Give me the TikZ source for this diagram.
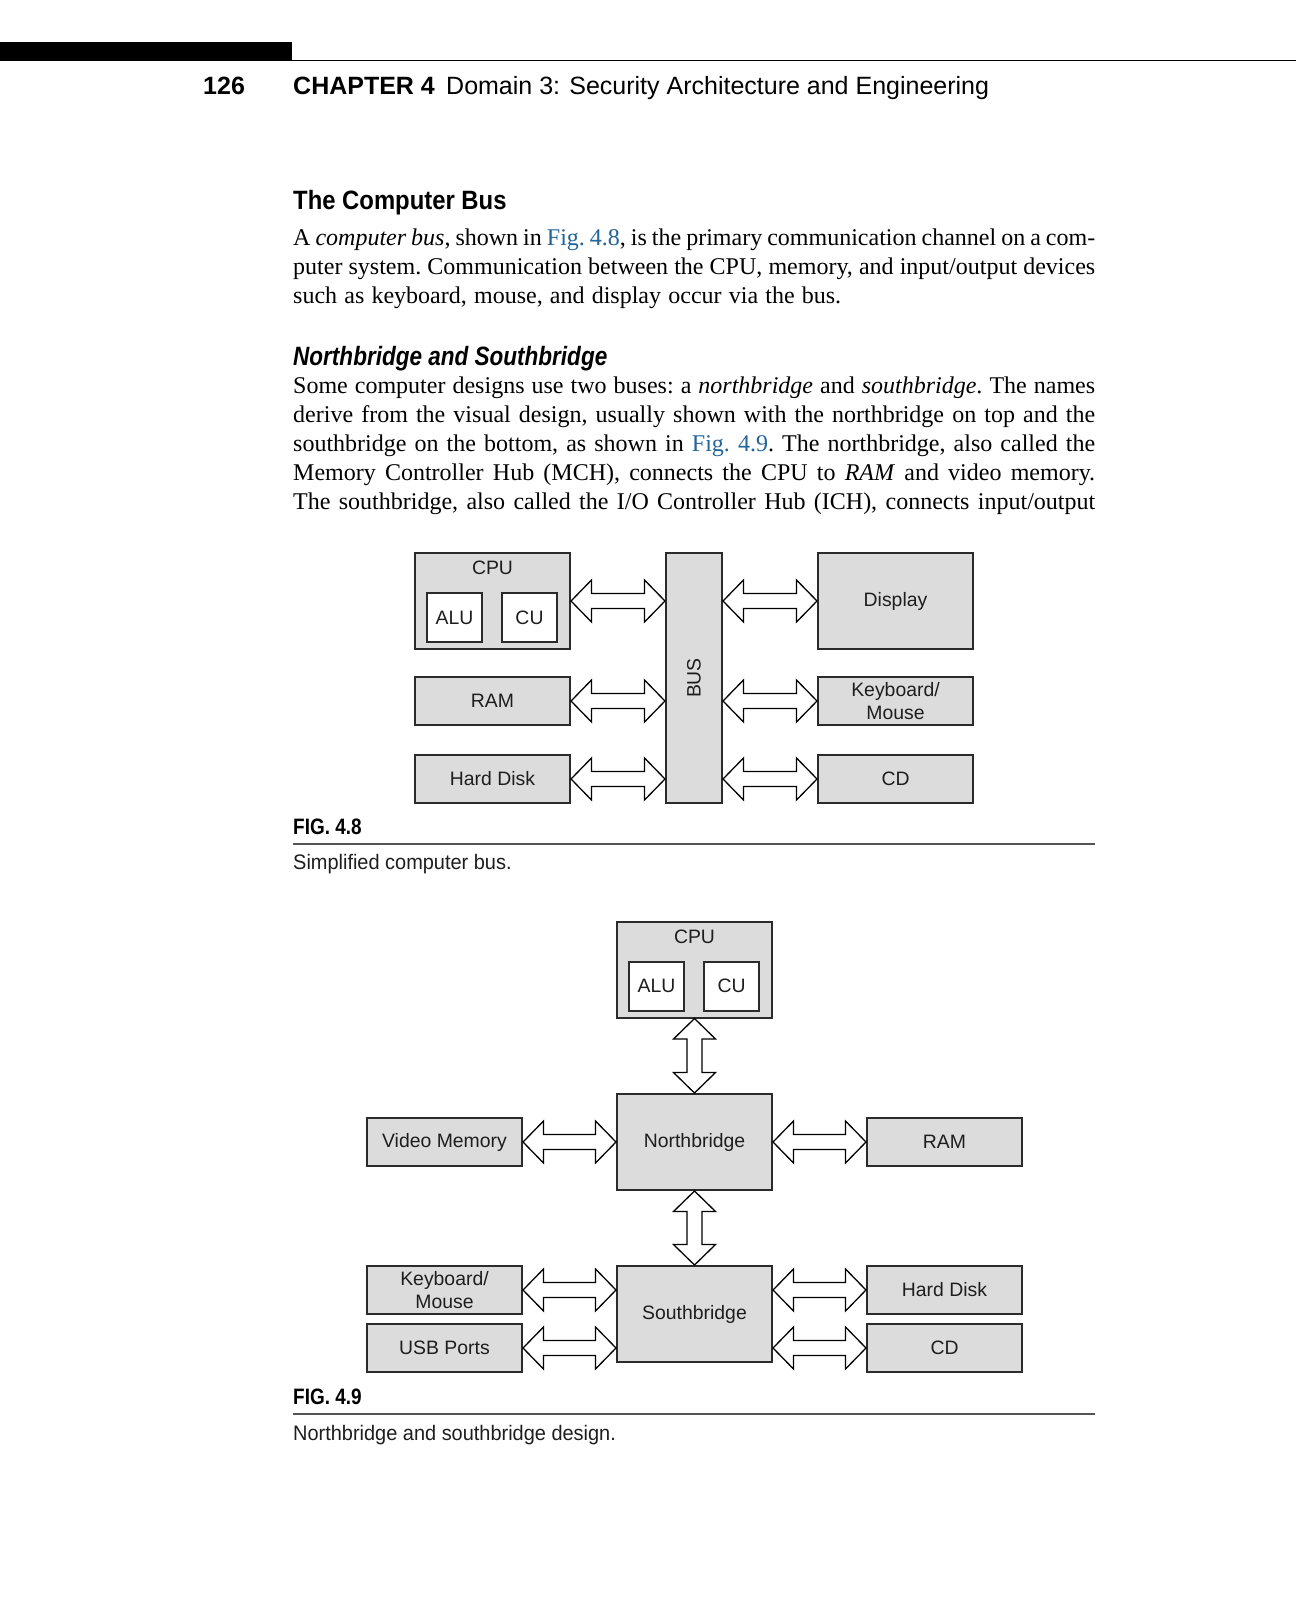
\documentclass[tikz,border=0pt]{standalone}
\usepackage{fontspec}
\usepackage{graphicx}
\usetikzlibrary{calc}
\setmainfont{Liberation Serif}
\newfontfamily\figfont{Liberation Sans}
\newfontfamily\condfont[FakeStretch=0.85]{Liberation Sans}
\newfontfamily\headfont[FakeStretch=0.9]{Liberation Sans}
\newfontfamily\capfont[FakeStretch=0.95]{Liberation Sans}
\newfontfamily\hdrfont{Liberation Sans}
\definecolor{boxline}{HTML}{2B2B2B}
\definecolor{boxfill}{HTML}{DCDCDC}
\definecolor{figtext}{HTML}{1E1E1E}
\definecolor{linkblue}{RGB}{35,100,155}
\definecolor{rulegray}{HTML}{555555}
\newcommand\lnk[1]{\textcolor{linkblue}{#1}}
\def\arrL{20.5pt}
\def\arrH{21pt}
\def\arrS{7.5pt}
\newcommand\harr[2]{\draw[barrow] let \p1=(#1), \p2=(#2) in
  (\x1,\y1) -- (\x1+\arrL,\y1+\arrH) -- (\x1+\arrL,\y1+\arrS) -- (\x2-\arrL,\y1+\arrS)
  -- (\x2-\arrL,\y1+\arrH) -- (\x2,\y1) -- (\x2-\arrL,\y1-\arrH) -- (\x2-\arrL,\y1-\arrS)
  -- (\x1+\arrL,\y1-\arrS) -- (\x1+\arrL,\y1-\arrH) -- cycle;}
\newcommand\varr[2]{\draw[barrow] let \p1=(#1), \p2=(#2) in
  (\x1,\y1) -- (\x1+\arrH,\y1-\arrL) -- (\x1+\arrS,\y1-\arrL) -- (\x1+\arrS,\y2+\arrL)
  -- (\x1+\arrH,\y2+\arrL) -- (\x1,\y2) -- (\x1-\arrH,\y2+\arrL) -- (\x1-\arrS,\y2+\arrL)
  -- (\x1-\arrS,\y1-\arrL) -- (\x1-\arrH,\y1-\arrL) -- cycle;}
\newcommand\bodysetup{\fontsize{24}{29.2}\selectfont\frenchspacing\spaceskip=0.3em plus 0.15em minus 0.1em\relax}
\tikzset{
  box/.style={draw=boxline, fill=boxfill, line width=2pt, inner sep=0pt,
    minimum width=155pt, font=\figfont\fontsize{19.4}{22.5}\selectfont,
    text=figtext, align=center},
  bigbox/.style={box, minimum height=96pt},
  smallbox/.style={box, minimum height=48pt},
  inbox/.style={box, fill=white, minimum width=55pt, minimum height=49pt},
  barrow/.style={draw=black, fill=white, line width=1.3pt, line join=miter},
  bodyline/.style={anchor=base west, inner sep=0pt, font=\bodysetup},
  headtxt/.style={anchor=base west, inner sep=0pt, font=\headfont\bfseries\fontsize{26.5}{30}\selectfont},
  figlbl/.style={anchor=base west, inner sep=0pt, font=\condfont\bfseries\fontsize{22.3}{26}\selectfont},
  figcap/.style={anchor=base west, inner sep=0pt, text=figtext, font=\capfont\fontsize{21}{25}\selectfont},
  lbl/.style={anchor=base, inner sep=0pt, text=figtext, font=\figfont\fontsize{19.4}{22.5}\selectfont},
}
\begin{document}
\begin{tikzpicture}[x=1pt,y=-1pt]
\useasboundingbox[fill=white] (0,0) rectangle (1298,1600);
% running header
\fill[black] (0,42) rectangle (292,61);
\draw[line width=1.5pt] (292,60.5) -- (1296,60.5);
\node[anchor=base west, inner sep=0pt, font=\hdrfont\bfseries\fontsize{25}{30}\selectfont] (pgno) at (203,95) {126};
\node[anchor=base west, inner sep=0pt, font=\hdrfont\bfseries\fontsize{25}{30}\selectfont] (chap) at (293,95) {CHAPTER 4};
\node[anchor=base west, inner sep=0pt, font=\hdrfont\fontsize{25}{30}\selectfont] (chtitle) at (446,95) {Domain 3: Security Architecture and Engineering};
% section heading
\node[headtxt] (h1) at (293,209.5) {The Computer Bus};
\node[bodyline] (p1a) at (293,245) {\makebox[802pt][s]{A \emph{computer bus}, shown in \lnk{Fig.\ 4.8}, is the primary communication channel on a com-}};
\node[bodyline] (p1b) at (293,274.2) {\makebox[802pt][s]{puter system. Communication between the CPU, memory, and input/output devices}};
\node[bodyline] (p1c) at (293,303.4) {such as keyboard, mouse, and display occur via the bus.};
\node[headtxt, font=\condfont\bfseries\itshape\fontsize{26.5}{30}\selectfont] (h2) at (293,365) {Northbridge and Southbridge};
\node[bodyline] (p2a) at (293,393.5) {\makebox[802pt][s]{Some computer designs use two buses: a \emph{northbridge} and \emph{southbridge}. The names}};
\node[bodyline] (p2b) at (293,422.5) {\makebox[802pt][s]{derive from the visual design, usually shown with the northbridge on top and the}};
\node[bodyline] (p2c) at (293,451.5) {\makebox[802pt][s]{southbridge on the bottom, as shown in \lnk{Fig.\ 4.9}. The northbridge, also called the}};
\node[bodyline] (p2d) at (293,480.5) {\makebox[802pt][s]{Memory Controller Hub (MCH), connects the CPU to \emph{RAM} and video memory.}};
\node[bodyline] (p2e) at (293,509.5) {\makebox[802pt][s]{The southbridge, also called the I/O Controller Hub (ICH), connects input/output}};
% ---------- Fig 4.8 ----------
\node[bigbox] (cpu) at (492.5,601) {};
\node[lbl] (cpulbl) at (492.5,574) {CPU};
\node[inbox] (alu) at (454.5,617.5) {ALU};
\node[inbox] (cu) at (529.5,617.5) {CU};
\node[box, minimum width=56pt, minimum height=250pt] (bus) at (694,678) {\rotatebox{90}{BUS}};
\node[bigbox] (disp) at (895.5,601) {Display};
\node[smallbox] (ram) at (492.5,701) {RAM};
\node[smallbox] (kbd) at (895.5,701) {Keyboard/\\Mouse};
\node[smallbox] (hd) at (492.5,779) {Hard Disk};
\node[smallbox] (cd) at (895.5,779) {CD};
\harr{cpu.east}{bus.west |- cpu.east}
\harr{ram.east}{bus.west |- ram.east}
\harr{hd.east}{bus.west |- hd.east}
\harr{bus.east |- disp.west}{disp.west}
\harr{bus.east |- kbd.west}{kbd.west}
\harr{bus.east |- cd.west}{cd.west}
\node[figlbl] (fig8) at (293,834) {FIG. 4.8};
\draw[rulegray, line width=1.3pt] (293,844) -- (1095,844);
\node[figcap] (cap8) at (293,869) {Simplified computer bus.};
% ---------- Fig 4.9 ----------
\node[bigbox] (cpub) at (694.5,969.5) {};
\node[lbl] (cpublbl) at (694.5,943) {CPU};
\node[inbox] (alub) at (656.5,986) {ALU};
\node[inbox] (cub) at (731.5,986) {CU};
\node[bigbox] (nb) at (694.5,1142) {Northbridge};
\node[smallbox] (vid) at (444.5,1142) {Video Memory};
\node[smallbox] (ramb) at (944.5,1142) {RAM};
\node[bigbox] (sb) at (694.5,1314) {Southbridge};
\node[smallbox] (kbdb) at (444.5,1290) {Keyboard/\\Mouse};
\node[smallbox] (usb) at (444.5,1348) {USB Ports};
\node[smallbox] (hdb) at (944.5,1290) {Hard Disk};
\node[smallbox] (cdb) at (944.5,1348) {CD};
\varr{cpub.south}{nb.north}
\varr{nb.south}{sb.north}
\harr{vid.east}{nb.west |- vid.east}
\harr{nb.east |- ramb.west}{ramb.west}
\harr{kbdb.east}{sb.west |- kbdb.east}
\harr{usb.east}{sb.west |- usb.east}
\harr{sb.east |- hdb.west}{hdb.west}
\harr{sb.east |- cdb.west}{cdb.west}
\node[figlbl] (fig9) at (293,1404) {FIG. 4.9};
\draw[rulegray, line width=1.3pt] (293,1414) -- (1095,1414);
\node[figcap] (cap9) at (293,1440) {Northbridge and southbridge design.};
\end{tikzpicture}
\end{document}
